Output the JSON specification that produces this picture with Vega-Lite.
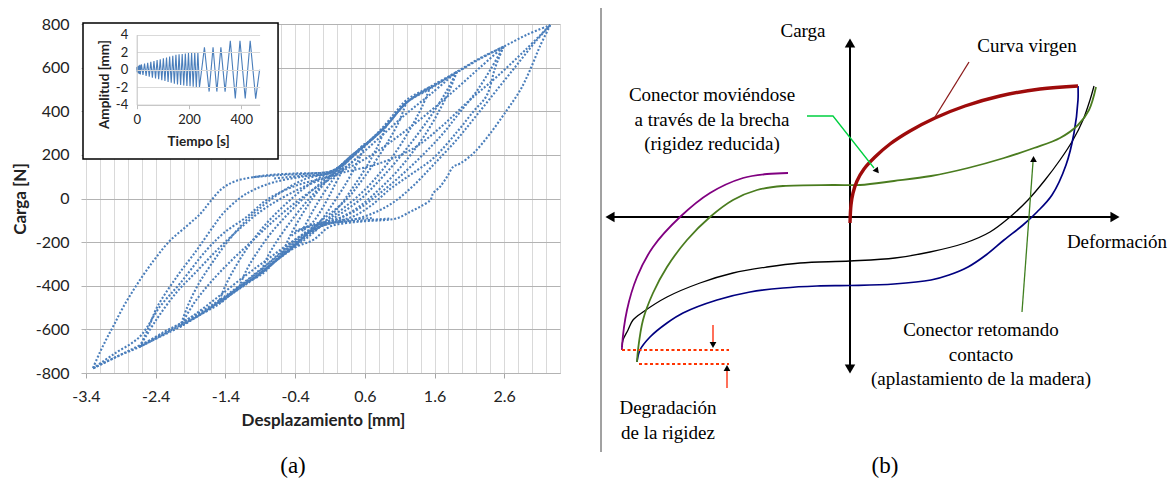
{
"$schema":"https://vega.github.io/schema/vega-lite/v6.json",
"width":1173,"height":397,
"autosize":"none",
"padding":{"left":0,"top":0,"right":0,"bottom":87},
"background":"white",
"config":{"view":{"stroke":null},"font":"Lato"},
"datasets":{
"hy":[
{"p":1,"d":-3.3,"c":-777},{"p":1,"d":-3.2,"c":-705},{"p":1,"d":-3.1,"c":-640},{"p":1,"d":-3.0,"c":-580},{"p":1,"d":-2.87,"c":-500},{"p":1,"d":-2.67,"c":-395},{"p":1,"d":-2.43,"c":-285},{"p":1,"d":-2.2,"c":-195},{"p":1,"d":-1.95,"c":-125},{"p":1,"d":-1.76,"c":-70},{"p":1,"d":-1.62,"c":-15},{"p":1,"d":-1.45,"c":45},{"p":1,"d":-1.25,"c":80},{"p":1,"d":-0.81,"c":106},{"p":1,"d":-0.38,"c":115},{"p":1,"d":0.1,"c":123},{"p":1,"d":0.25,"c":150},{"p":1,"d":0.39,"c":192},{"p":1,"d":0.63,"c":253},{"p":1,"d":0.87,"c":330},{"p":1,"d":1.05,"c":400},{"p":1,"d":1.2,"c":452},{"p":1,"d":1.54,"c":513},{"p":1,"d":1.92,"c":581},{"p":1,"d":2.25,"c":643},{"p":1,"d":2.59,"c":696},{"p":1,"d":2.92,"c":750},{"p":1,"d":3.26,"c":795},
{"p":2,"d":3.26,"c":795},{"p":2,"d":3.11,"c":696},{"p":2,"d":2.97,"c":589},{"p":2,"d":2.83,"c":497},{"p":2,"d":2.64,"c":406},{"p":2,"d":2.4,"c":299},{"p":2,"d":2.16,"c":208},{"p":2,"d":1.97,"c":161},{"p":2,"d":1.87,"c":146},{"p":2,"d":1.78,"c":100},{"p":2,"d":1.68,"c":54},{"p":2,"d":1.58,"c":24},{"p":2,"d":1.54,"c":-7},{"p":2,"d":1.39,"c":-38},{"p":2,"d":1.25,"c":-61},{"p":2,"d":1.06,"c":-91},{"p":2,"d":0.87,"c":-99},{"p":2,"d":0.53,"c":-106},{"p":2,"d":0.1,"c":-129},{"p":2,"d":-0.14,"c":-190},{"p":2,"d":-0.38,"c":-221},{"p":2,"d":-0.62,"c":-267},{"p":2,"d":-0.86,"c":-343},{"p":2,"d":-1.19,"c":-404},{"p":2,"d":-1.48,"c":-481},{"p":2,"d":-1.81,"c":-542},{"p":2,"d":-2.05,"c":-588},{"p":2,"d":-2.34,"c":-634},{"p":2,"d":-2.63,"c":-680},{"p":2,"d":-2.96,"c":-725},{"p":2,"d":-3.3,"c":-779},
{"p":3,"d":-3.3,"c":-779},{"p":3,"d":-3.0,"c":-713},{"p":3,"d":-2.63,"c":-634},{"p":3,"d":-2.34,"c":-496},{"p":3,"d":-2.05,"c":-389},{"p":3,"d":-1.67,"c":-236},{"p":3,"d":-1.43,"c":-160},{"p":3,"d":-1.09,"c":-83},{"p":3,"d":-0.81,"c":-7},{"p":3,"d":-0.43,"c":54},{"p":3,"d":-0.04,"c":90},{"p":3,"d":0.3,"c":120},{"p":3,"d":0.8,"c":160},{"p":3,"d":1.3,"c":230},{"p":3,"d":1.7,"c":330},{"p":3,"d":2.1,"c":450},{"p":3,"d":2.5,"c":560},{"p":3,"d":2.9,"c":680},{"p":3,"d":3.26,"c":795},
{"p":4,"d":3.26,"c":795},{"p":4,"d":3.05,"c":720},{"p":4,"d":2.8,"c":620},{"p":4,"d":2.5,"c":500},{"p":4,"d":2.2,"c":380},{"p":4,"d":1.92,"c":270},{"p":4,"d":1.6,"c":160},{"p":4,"d":1.3,"c":60},{"p":4,"d":1.0,"c":-20},{"p":4,"d":0.7,"c":-70},{"p":4,"d":0.4,"c":-100},{"p":4,"d":0.1,"c":-115},{"p":4,"d":-0.2,"c":-150},{"p":4,"d":-0.5,"c":-210},{"p":4,"d":-0.8,"c":-280},{"p":4,"d":-1.1,"c":-350},{"p":4,"d":-1.5,"c":-450},{"p":4,"d":-1.9,"c":-545},{"p":4,"d":-2.3,"c":-620},{"p":4,"d":-2.8,"c":-700},{"p":4,"d":-3.3,"c":-779},
{"p":5,"d":-2.63,"c":-680},{"p":5,"d":-2.5,"c":-590},{"p":5,"d":-2.38,"c":-498},{"p":5,"d":-2.1,"c":-360},{"p":5,"d":-1.81,"c":-236},{"p":5,"d":-1.6,"c":-140},{"p":5,"d":-1.43,"c":-67},{"p":5,"d":-1.2,"c":0},{"p":5,"d":-1.0,"c":39},{"p":5,"d":-0.7,"c":75},{"p":5,"d":-0.3,"c":100},{"p":5,"d":0.1,"c":118},{"p":5,"d":0.3,"c":155},{"p":5,"d":0.5,"c":215},{"p":5,"d":0.87,"c":320},{"p":5,"d":1.2,"c":440},{"p":5,"d":1.54,"c":508},{"p":5,"d":1.92,"c":578},{"p":5,"d":2.25,"c":640},{"p":5,"d":2.59,"c":696},
{"p":6,"d":2.59,"c":696},{"p":6,"d":2.47,"c":600},{"p":6,"d":2.35,"c":473},{"p":6,"d":2.15,"c":396},{"p":6,"d":1.92,"c":304},{"p":6,"d":1.58,"c":184},{"p":6,"d":1.25,"c":108},{"p":6,"d":0.95,"c":40},{"p":6,"d":0.7,"c":-30},{"p":6,"d":0.45,"c":-80},{"p":6,"d":0.2,"c":-105},{"p":6,"d":-0.05,"c":-130},{"p":6,"d":-0.3,"c":-175},{"p":6,"d":-0.6,"c":-250},{"p":6,"d":-0.9,"c":-330},{"p":6,"d":-1.2,"c":-405},{"p":6,"d":-1.5,"c":-475},{"p":6,"d":-1.8,"c":-540},{"p":6,"d":-2.1,"c":-590},{"p":6,"d":-2.35,"c":-634},{"p":6,"d":-2.63,"c":-680},
{"p":7,"d":-2.63,"c":-680},{"p":7,"d":-2.4,"c":-560},{"p":7,"d":-2.1,"c":-430},{"p":7,"d":-1.8,"c":-330},{"p":7,"d":-1.5,"c":-230},{"p":7,"d":-1.2,"c":-140},{"p":7,"d":-0.9,"c":-60},{"p":7,"d":-0.6,"c":0},{"p":7,"d":-0.3,"c":50},{"p":7,"d":0.0,"c":90},{"p":7,"d":0.3,"c":130},{"p":7,"d":0.7,"c":200},{"p":7,"d":1.1,"c":290},{"p":7,"d":1.5,"c":390},{"p":7,"d":1.9,"c":500},{"p":7,"d":2.25,"c":600},{"p":7,"d":2.59,"c":696},
{"p":8,"d":2.59,"c":696},{"p":8,"d":2.4,"c":590},{"p":8,"d":2.2,"c":490},{"p":8,"d":1.95,"c":390},{"p":8,"d":1.7,"c":290},{"p":8,"d":1.4,"c":190},{"p":8,"d":1.1,"c":100},{"p":8,"d":0.8,"c":20},{"p":8,"d":0.5,"c":-50},{"p":8,"d":0.2,"c":-95},{"p":8,"d":-0.1,"c":-125},{"p":8,"d":-0.4,"c":-190},{"p":8,"d":-0.8,"c":-300},{"p":8,"d":-1.2,"c":-400},{"p":8,"d":-1.6,"c":-490},{"p":8,"d":-2.0,"c":-565},{"p":8,"d":-2.3,"c":-615},{"p":8,"d":-2.63,"c":-680},
{"p":9,"d":-2.05,"c":-588},{"p":9,"d":-1.95,"c":-500},{"p":9,"d":-1.8,"c":-400},{"p":9,"d":-1.6,"c":-300},{"p":9,"d":-1.35,"c":-190},{"p":9,"d":-1.1,"c":-100},{"p":9,"d":-0.85,"c":-30},{"p":9,"d":-0.55,"c":40},{"p":9,"d":-0.25,"c":90},{"p":9,"d":0.05,"c":115},{"p":9,"d":0.3,"c":160},{"p":9,"d":0.6,"c":240},{"p":9,"d":0.9,"c":330},{"p":9,"d":1.2,"c":440},{"p":9,"d":1.55,"c":505},{"p":9,"d":1.92,"c":581},
{"p":10,"d":1.92,"c":581},{"p":10,"d":1.82,"c":500},{"p":10,"d":1.68,"c":410},{"p":10,"d":1.5,"c":310},{"p":10,"d":1.28,"c":210},{"p":10,"d":1.05,"c":120},{"p":10,"d":0.8,"c":40},{"p":10,"d":0.55,"c":-30},{"p":10,"d":0.3,"c":-80},{"p":10,"d":0.05,"c":-115},{"p":10,"d":-0.2,"c":-160},{"p":10,"d":-0.5,"c":-230},{"p":10,"d":-0.85,"c":-330},{"p":10,"d":-1.2,"c":-410},{"p":10,"d":-1.5,"c":-475},{"p":10,"d":-1.8,"c":-535},{"p":10,"d":-2.05,"c":-588},
{"p":11,"d":-2.05,"c":-588},{"p":11,"d":-1.85,"c":-480},{"p":11,"d":-1.6,"c":-380},{"p":11,"d":-1.3,"c":-280},{"p":11,"d":-1.0,"c":-190},{"p":11,"d":-0.7,"c":-100},{"p":11,"d":-0.4,"c":-20},{"p":11,"d":-0.1,"c":50},{"p":11,"d":0.2,"c":110},{"p":11,"d":0.5,"c":190},{"p":11,"d":0.85,"c":290},{"p":11,"d":1.2,"c":390},{"p":11,"d":1.55,"c":480},{"p":11,"d":1.92,"c":581},
{"p":12,"d":1.92,"c":581},{"p":12,"d":1.75,"c":480},{"p":12,"d":1.55,"c":380},{"p":12,"d":1.3,"c":270},{"p":12,"d":1.05,"c":170},{"p":12,"d":0.8,"c":80},{"p":12,"d":0.55,"c":0},{"p":12,"d":0.3,"c":-60},{"p":12,"d":0.05,"c":-110},{"p":12,"d":-0.2,"c":-165},{"p":12,"d":-0.5,"c":-240},{"p":12,"d":-0.8,"c":-315},{"p":12,"d":-1.15,"c":-400},{"p":12,"d":-1.55,"c":-490},{"p":12,"d":-2.05,"c":-588},
{"p":13,"d":-1.5,"c":-481},{"p":13,"d":-1.4,"c":-400},{"p":13,"d":-1.25,"c":-310},{"p":13,"d":-1.05,"c":-210},{"p":13,"d":-0.8,"c":-110},{"p":13,"d":-0.55,"c":-30},{"p":13,"d":-0.3,"c":40},{"p":13,"d":-0.05,"c":95},{"p":13,"d":0.15,"c":125},{"p":13,"d":0.39,"c":192},{"p":13,"d":0.63,"c":253},{"p":13,"d":0.87,"c":320},{"p":13,"d":1.2,"c":440},{"p":13,"d":1.54,"c":512},
{"p":14,"d":1.54,"c":512},{"p":14,"d":1.42,"c":420},{"p":14,"d":1.27,"c":330},{"p":14,"d":1.08,"c":230},{"p":14,"d":0.85,"c":130},{"p":14,"d":0.6,"c":40},{"p":14,"d":0.35,"c":-30},{"p":14,"d":0.1,"c":-90},{"p":14,"d":-0.15,"c":-140},{"p":14,"d":-0.4,"c":-210},{"p":14,"d":-0.7,"c":-290},{"p":14,"d":-1.0,"c":-370},{"p":14,"d":-1.25,"c":-425},{"p":14,"d":-1.5,"c":-481},
{"p":15,"d":-1.2,"c":-405},{"p":15,"d":-1.1,"c":-330},{"p":15,"d":-0.95,"c":-250},{"p":15,"d":-0.75,"c":-160},{"p":15,"d":-0.5,"c":-70},{"p":15,"d":-0.25,"c":10},{"p":15,"d":0.0,"c":80},{"p":15,"d":0.2,"c":130},{"p":15,"d":0.4,"c":190},{"p":15,"d":0.63,"c":253},{"p":15,"d":0.9,"c":335},{"p":15,"d":1.2,"c":445},
{"p":16,"d":1.2,"c":445},{"p":16,"d":1.1,"c":360},{"p":16,"d":0.95,"c":270},{"p":16,"d":0.75,"c":170},{"p":16,"d":0.55,"c":80},{"p":16,"d":0.35,"c":0},{"p":16,"d":0.1,"c":-70},{"p":16,"d":-0.1,"c":-120},{"p":16,"d":-0.35,"c":-200},{"p":16,"d":-0.6,"c":-267},{"p":16,"d":-0.9,"c":-345},{"p":16,"d":-1.2,"c":-405},
{"p":17,"d":-0.9,"c":-345},{"p":17,"d":-0.8,"c":-270},{"p":17,"d":-0.65,"c":-190},{"p":17,"d":-0.45,"c":-100},{"p":17,"d":-0.25,"c":-20},{"p":17,"d":-0.05,"c":50},{"p":17,"d":0.15,"c":110},{"p":17,"d":0.4,"c":190},{"p":17,"d":0.65,"c":260},{"p":17,"d":0.9,"c":330},
{"p":18,"d":0.9,"c":330},{"p":18,"d":0.8,"c":250},{"p":18,"d":0.65,"c":160},{"p":18,"d":0.45,"c":60},{"p":18,"d":0.25,"c":-30},{"p":18,"d":0.05,"c":-100},{"p":18,"d":-0.15,"c":-160},{"p":18,"d":-0.4,"c":-222},{"p":18,"d":-0.65,"c":-280},{"p":18,"d":-0.9,"c":-345},
{"p":19,"d":-0.6,"c":-267},{"p":19,"d":-0.5,"c":-190},{"p":19,"d":-0.35,"c":-100},{"p":19,"d":-0.15,"c":0},{"p":19,"d":0.05,"c":80},{"p":19,"d":0.25,"c":150},{"p":19,"d":0.45,"c":205},{"p":19,"d":0.6,"c":250},{"p":19,"d":0.5,"c":170},{"p":19,"d":0.35,"c":80},{"p":19,"d":0.15,"c":-20},{"p":19,"d":-0.05,"c":-110},{"p":19,"d":-0.25,"c":-170},{"p":19,"d":-0.45,"c":-225},{"p":19,"d":-0.6,"c":-267},
{"p":20,"d":-1.0,"c":98},{"p":20,"d":-0.6,"c":108},{"p":20,"d":-0.2,"c":114},{"p":20,"d":0.15,"c":128},{"p":20,"d":0.35,"c":170},
{"p":21,"d":-0.7,"c":92},{"p":21,"d":-0.3,"c":104},{"p":21,"d":0.05,"c":112},{"p":21,"d":0.3,"c":140},{"p":21,"d":0.5,"c":190},
{"p":22,"d":0.95,"c":-92},{"p":22,"d":0.6,"c":-100},{"p":22,"d":0.25,"c":-108},{"p":22,"d":-0.05,"c":-118},{"p":22,"d":-0.3,"c":-140},{"p":22,"d":-0.45,"c":-170},
{"p":23,"d":0.7,"c":-90},{"p":23,"d":0.4,"c":-96},{"p":23,"d":0.1,"c":-104},{"p":23,"d":-0.15,"c":-120},{"p":23,"d":-0.4,"c":-150},
{"p":24,"d":-0.3,"c":-150},{"p":24,"d":-0.15,"c":-60},{"p":24,"d":0.0,"c":20},{"p":24,"d":0.15,"c":90},{"p":24,"d":0.3,"c":150},{"p":24,"d":0.15,"c":50},{"p":24,"d":0.0,"c":-40},{"p":24,"d":-0.15,"c":-110},{"p":24,"d":-0.3,"c":-150}
],
"ins":[
{"t":0,"a":0},{"t":0.6,"a":0.3},{"t":1.8,"a":-0.3},{"t":3,"a":0.35},{"t":4.2,"a":-0.35},{"t":5.4,"a":0.4},{"t":6.6,"a":-0.4},{"t":7.8,"a":0.45},{"t":9,"a":-0.45},{"t":10.2,"a":0.5},{"t":11.4,"a":-0.5},{"t":12.6,"a":0.55},{"t":13.8,"a":-0.55},
{"t":18,"a":0.6},{"t":24,"a":-0.6},{"t":30,"a":0.7},{"t":36,"a":-0.7},{"t":42,"a":0.8},{"t":48,"a":-0.8},{"t":54,"a":0.9},{"t":60,"a":-0.9},{"t":66,"a":1.0},{"t":72,"a":-1.0},{"t":78,"a":1.1},{"t":84,"a":-1.1},{"t":90,"a":1.2},{"t":96,"a":-1.2},{"t":102,"a":1.3},{"t":108,"a":-1.3},{"t":114,"a":1.4},{"t":120,"a":-1.4},{"t":126,"a":1.5},{"t":132,"a":-1.5},{"t":138,"a":1.6},{"t":144,"a":-1.6},{"t":150,"a":1.7},{"t":156,"a":-1.7},{"t":162,"a":1.75},{"t":168,"a":-1.75},{"t":174,"a":1.8},{"t":180,"a":-1.8},{"t":186,"a":1.85},{"t":192,"a":-1.85},{"t":198,"a":1.9},{"t":204,"a":-1.9},{"t":210,"a":1.95},{"t":216,"a":-1.95},{"t":222,"a":2.0},{"t":228,"a":-2.0},{"t":234,"a":2.0},{"t":240,"a":-2.0},
{"t":259,"a":2.55},{"t":277,"a":-2.5},{"t":292,"a":2.55},{"t":306.5,"a":-2.5},{"t":322,"a":2.55},{"t":338,"a":-2.5},{"t":358,"a":3.3},{"t":377,"a":-3.3},{"t":395,"a":3.3},{"t":415,"a":-3.3},{"t":434,"a":3.3},{"t":455,"a":-3.3},{"t":470,"a":0}
],
"box":[{"x1":-3.443,"x2":-0.645,"y1":804.6,"y2":181}],
"pb":[
{"s":"ejeV","u":0,"v":173},{"s":"ejeV","u":0,"v":-151},
{"s":"ejeH","u":-239,"v":0},{"s":"ejeH","u":264,"v":0},
{"s":"sep","u":-249,"v":209},{"s":"sep","u":-249,"v":-235},
{"s":"virgen","u":0,"v":-6},{"s":"virgen","u":1,"v":12},{"s":"virgen","u":3,"v":24},{"s":"virgen","u":7,"v":36},{"s":"virgen","u":14,"v":48},{"s":"virgen","u":25,"v":60},{"s":"virgen","u":40,"v":73},{"s":"virgen","u":60,"v":86},{"s":"virgen","u":85,"v":99},{"s":"virgen","u":115,"v":111},{"s":"virgen","u":150,"v":121},{"s":"virgen","u":190,"v":128},{"s":"virgen","u":228,"v":131},
{"s":"azul","u":228,"v":131},{"s":"azul","u":228,"v":117},{"s":"azul","u":224,"v":84},{"s":"azul","u":216,"v":52},{"s":"azul","u":202,"v":22},{"s":"azul","u":187,"v":5},{"s":"azul","u":173,"v":-8},{"s":"azul","u":154,"v":-23},{"s":"azul","u":136,"v":-38},{"s":"azul","u":118,"v":-50},{"s":"azul","u":99,"v":-58},{"s":"azul","u":81,"v":-63},{"s":"azul","u":44,"v":-67},{"s":"azul","u":0,"v":-68.5},{"s":"azul","u":-33,"v":-69},{"s":"azul","u":-67,"v":-71},{"s":"azul","u":-100,"v":-75},{"s":"azul","u":-133,"v":-83},{"s":"azul","u":-167,"v":-96},{"s":"azul","u":-183,"v":-106},{"s":"azul","u":-200,"v":-120},{"s":"azul","u":-210,"v":-133},{"s":"azul","u":-213,"v":-145},
{"s":"negra","u":-228,"v":-130},{"s":"negra","u":-227,"v":-123},{"s":"negra","u":-222,"v":-113},{"s":"negra","u":-217,"v":-103},{"s":"negra","u":-207,"v":-95},{"s":"negra","u":-183,"v":-80},{"s":"negra","u":-150,"v":-66},{"s":"negra","u":-117,"v":-56},{"s":"negra","u":-83,"v":-50},{"s":"negra","u":-50,"v":-46},{"s":"negra","u":0,"v":-44},{"s":"negra","u":45,"v":-41},{"s":"negra","u":80,"v":-35},{"s":"negra","u":115,"v":-26},{"s":"negra","u":140,"v":-15},{"s":"negra","u":160,"v":0},{"s":"negra","u":178,"v":17},{"s":"negra","u":195,"v":37},{"s":"negra","u":210,"v":57},{"s":"negra","u":223,"v":77},{"s":"negra","u":233,"v":97},{"s":"negra","u":240,"v":117},{"s":"negra","u":244,"v":131},
{"s":"verde","u":-213,"v":-145},{"s":"verde","u":-212,"v":-133},{"s":"verde","u":-207,"v":-103},{"s":"verde","u":-197,"v":-76},{"s":"verde","u":-183,"v":-50},{"s":"verde","u":-163,"v":-23},{"s":"verde","u":-140,"v":0},{"s":"verde","u":-117,"v":17},{"s":"verde","u":-93,"v":27},{"s":"verde","u":-67,"v":31},{"s":"verde","u":-17,"v":32},{"s":"verde","u":10,"v":32},{"s":"verde","u":44,"v":36},{"s":"verde","u":81,"v":41},{"s":"verde","u":118,"v":49},{"s":"verde","u":154,"v":59},{"s":"verde","u":184,"v":69},{"s":"verde","u":210,"v":79},{"s":"verde","u":228,"v":92},{"s":"verde","u":239,"v":107},{"s":"verde","u":246,"v":130},
{"s":"morada","u":-228,"v":-133},{"s":"morada","u":-228,"v":-130},{"s":"morada","u":-223,"v":-93},{"s":"morada","u":-213,"v":-60},{"s":"morada","u":-197,"v":-30},{"s":"morada","u":-170,"v":0},{"s":"morada","u":-140,"v":24},{"s":"morada","u":-107,"v":39},{"s":"morada","u":-83,"v":43},{"s":"morada","u":-62,"v":44},
{"s":"guiaVerde","u":-43,"v":101},{"s":"guiaVerde","u":-17,"v":101},{"s":"guiaVerde","u":24,"v":49},
{"s":"guiaOscura","u":172,"v":-95},{"s":"guiaOscura","u":183,"v":55},
{"s":"guiaRoja","u":119,"v":155},{"s":"guiaRoja","u":85,"v":100},
{"s":"flecha1","u":-137,"v":-108},{"s":"flecha1","u":-137,"v":-126},
{"s":"flecha2","u":-123,"v":-171},{"s":"flecha2","u":-123,"v":-153},
{"s":"deg1","u":-228,"v":-133},{"s":"deg1","u":-121,"v":-133},
{"s":"deg2","u":-211,"v":-147},{"s":"deg2","u":-121,"v":-147}
],
"hd":[
{"k":"ejeArriba","u":0,"v":174},{"k":"ejeAbajo","u":0,"v":-152},{"k":"ejeIzq","u":-240,"v":0},{"k":"ejeDer","u":265,"v":0},
{"k":"flechaArriba","u":-123,"v":-151},{"k":"guiaArriba","u":183.5,"v":58},{"k":"flechaAbajo","u":-137,"v":-128},{"k":"guiaDiag","u":27,"v":46}
],
"tx":[
{"k":"b","t":"Carga","u":-47,"v":186},
{"k":"b","t":"Curva virgen","u":177,"v":171},
{"k":"b","t":"Conector moviéndose","u":-138,"v":122},
{"k":"b","t":"a través de la brecha","u":-138,"v":97},
{"k":"b","t":"(rigidez reducida)","u":-138,"v":73},
{"k":"b","t":"Deformación","u":267,"v":-25},
{"k":"b","t":"Conector retomando","u":131,"v":-113},
{"k":"b","t":"contacto","u":131,"v":-138},
{"k":"b","t":"(aplastamiento de la madera)","u":131,"v":-162},
{"k":"b","t":"Degradación","u":-182,"v":-191},
{"k":"b","t":"de la rigidez","u":-182,"v":-216},
{"k":"c","t":"(b)","u":35,"v":-249},
{"k":"c","t":"(a)","u":-557,"v":-249}
]
},
"layer":[
{
"data":{"name":"hy"},
"mark":{"type":"line","color":"#4a7ebb","strokeWidth":2.1,"strokeDash":[2,1.8],"interpolate":"catmull-rom"},
"encoding":{
"x":{"field":"d","type":"quantitative","scale":{"domain":[-3.4,3.4],"range":[86,560],"nice":false,"zero":false},
"axis":{"orient":"bottom","offset":-24,"zindex":0,
"values":[-3.4,-3.2,-3,-2.8,-2.6,-2.4,-2.2,-2,-1.8,-1.6,-1.4,-1.2,-1,-0.8,-0.6,-0.4,-0.2,0,0.2,0.4,0.6,0.8,1,1.2,1.4,1.6,1.8,2,2.2,2.4,2.6,2.8,3,3.2,3.4],
"labelExpr":"indexof([-3.4,-2.4,-1.4,-0.4,0.6,1.6,2.6], datum.value) >= 0 ? '' + datum.value : ''",
"labelOverlap":false,"labelFlush":false,"labelFont":"Lato","labelFontSize":16,"labelColor":"#222222","labelPadding":10,
"ticks":true,"tickSize":5,"tickColor":"#a6a6a6",
"tickOpacity":{"condition":{"test":"indexof([-3.4,-2.4,-1.4,-0.4,0.6,1.6,2.6], datum.value) >= 0","value":1},"value":0},
"grid":true,"gridColor":"#d9d9d9","gridWidth":1,
"domain":true,"domainColor":"#b3b3b3",
"title":"Desplazamiento [mm]","titleFont":"Lato","titleFontSize":17,"titleFontWeight":"bold","titleColor":"#222222","titlePadding":8}},
"y":{"field":"c","type":"quantitative","scale":{"domain":[-800,800],"range":[373,24],"nice":false,"zero":false},
"axis":{"orient":"left","offset":-86,"zindex":0,"values":[-800,-600,-400,-200,0,200,400,600,800],
"labelExpr":"'' + datum.value","labelFont":"Lato","labelFontSize":16,"labelColor":"#222222","labelPadding":12,
"tickSize":5,"tickColor":"#b3b3b3","grid":true,"gridColor":"#b3b3b3","domain":false,
"title":"Carga [N]","titleFont":"Lato","titleFontSize":17,"titleFontWeight":"bold","titleColor":"#222222","titlePadding":6}},
"detail":{"field":"p","type":"nominal"},
"order":{"value":null}
}
},
{"data":{"name":"box"},
"mark":{"type":"rect","fill":"white","stroke":"black","strokeWidth":1.5},
"encoding":{
"x":{"field":"x1","type":"quantitative","scale":{"domain":[-3.4,3.4],"range":[86,560],"nice":false,"zero":false},"axis":null},
"x2":{"field":"x2"},
"y":{"field":"y1","type":"quantitative","scale":{"domain":[-800,800],"range":[373,24],"nice":false,"zero":false},"axis":null},
"y2":{"field":"y2"}}},
{"data":{"name":"ins"},
"mark":{"type":"line","color":"#4a7ebb","strokeWidth":1.1},
"encoding":{
"x":{"field":"t","type":"quantitative","scale":{"domain":[0,470],"range":[136.7,259.6],"nice":false,"zero":false},
"axis":{"orient":"bottom","offset":-292.3,"zindex":2,"values":[0,200,400],"labelFont":"Lato","labelFontSize":13,"labelColor":"#222222","labelPadding":5,"labelFlush":false,
"tickSize":4,"tickColor":"#bfbfbf","grid":false,"domain":true,"domainColor":"#bfbfbf",
"title":"Tiempo [s]","titleFont":"Lato","titleFontSize":13.5,"titleFontWeight":"bold","titleColor":"#222222","titlePadding":8}},
"y":{"field":"a","type":"quantitative","scale":{"domain":[-4,4],"range":[104.7,34.7],"nice":false,"zero":false},
"axis":{"orient":"left","offset":-136.7,"zindex":2,"values":[-4,-2,0,2,4],"labelExpr":"'' + datum.value","labelFont":"Lato","labelFontSize":13,"labelColor":"#222222","labelPadding":9,
"ticks":false,"grid":true,"gridColor":"#d9d9d9","domain":true,"domainColor":"#bfbfbf",
"title":"Amplitud [mm]","titleFont":"Lato","titleFontSize":13.5,"titleFontWeight":"bold","titleColor":"#222222","titleX":-25.5,"titleY":84}},
"order":{"field":"t","type":"quantitative"}}},
{
"encoding":{
"x":{"field":"u","type":"quantitative","scale":{"domain":[-250,323],"range":[600,1173],"nice":false,"zero":false},"axis":null},
"y":{"field":"v","type":"quantitative","scale":{"domain":[-267,217],"range":[484,0],"nice":false,"zero":false},"axis":null}
},
"layer":[
{"data":{"name":"pb"},"transform":[{"filter":"datum.s == 'sep'"}],"mark":{"type":"line","color":"#444444","strokeWidth":1},"encoding":{"detail":{"field":"s","type":"nominal"},"order":{"value":null}}},
{"data":{"name":"pb"},"transform":[{"filter":"datum.s == 'ejeV' || datum.s == 'ejeH'"}],"mark":{"type":"line","color":"black","strokeWidth":2},"encoding":{"detail":{"field":"s","type":"nominal"},"order":{"value":null}}},
{"data":{"name":"pb"},"transform":[{"filter":"datum.s == 'negra'"}],"mark":{"type":"line","color":"black","strokeWidth":1.3,"interpolate":"catmull-rom"},"encoding":{"order":{"value":null}}},
{"data":{"name":"pb"},"transform":[{"filter":"datum.s == 'azul'"}],"mark":{"type":"line","color":"#000080","strokeWidth":1.7,"interpolate":"catmull-rom"},"encoding":{"order":{"value":null}}},
{"data":{"name":"pb"},"transform":[{"filter":"datum.s == 'verde'"}],"mark":{"type":"line","color":"#4a7c1f","strokeWidth":1.8,"interpolate":"catmull-rom"},"encoding":{"order":{"value":null}}},
{"data":{"name":"pb"},"transform":[{"filter":"datum.s == 'morada'"}],"mark":{"type":"line","color":"#800080","strokeWidth":1.8,"interpolate":"catmull-rom"},"encoding":{"order":{"value":null}}},
{"data":{"name":"pb"},"transform":[{"filter":"datum.s == 'virgen'"}],"mark":{"type":"line","color":"#9e0b0b","strokeWidth":3.4,"interpolate":"catmull-rom"},"encoding":{"order":{"value":null}}},
{"data":{"name":"pb"},"transform":[{"filter":"datum.s == 'guiaVerde'"}],"mark":{"type":"line","color":"#00d040","strokeWidth":1.3},"encoding":{"order":{"value":null}}},
{"data":{"name":"pb"},"transform":[{"filter":"datum.s == 'guiaOscura'"}],"mark":{"type":"line","color":"#3f7f1f","strokeWidth":1.3},"encoding":{"order":{"value":null}}},
{"data":{"name":"pb"},"transform":[{"filter":"datum.s == 'guiaRoja'"}],"mark":{"type":"line","color":"#8b1a1a","strokeWidth":1.3},"encoding":{"order":{"value":null}}},
{"data":{"name":"pb"},"transform":[{"filter":"datum.s == 'flecha1' || datum.s == 'flecha2'"}],"mark":{"type":"line","color":"#ff2200","strokeWidth":1.3},"encoding":{"detail":{"field":"s","type":"nominal"},"order":{"value":null}}},
{"data":{"name":"pb"},"transform":[{"filter":"datum.s == 'deg1' || datum.s == 'deg2'"}],"mark":{"type":"line","color":"#ff3300","strokeWidth":2,"strokeDash":[3,2.5]},"encoding":{"detail":{"field":"s","type":"nominal"},"order":{"value":null}}},
{"data":{"name":"hd"},"transform":[{"filter":"datum.k == 'ejeArriba'"}],"mark":{"type":"point","shape":"triangle-up","size":110,"filled":true,"color":"black","opacity":1}},
{"data":{"name":"hd"},"transform":[{"filter":"datum.k == 'ejeAbajo'"}],"mark":{"type":"point","shape":"triangle-down","size":110,"filled":true,"color":"black","opacity":1}},
{"data":{"name":"hd"},"transform":[{"filter":"datum.k == 'ejeIzq'"}],"mark":{"type":"point","shape":"triangle-left","size":110,"filled":true,"color":"black","opacity":1}},
{"data":{"name":"hd"},"transform":[{"filter":"datum.k == 'ejeDer'"}],"mark":{"type":"point","shape":"triangle-right","size":110,"filled":true,"color":"black","opacity":1}},
{"data":{"name":"hd"},"transform":[{"filter":"datum.k == 'flechaArriba' || datum.k == 'guiaArriba'"}],"mark":{"type":"point","shape":"triangle-up","size":45,"filled":true,"color":"black","opacity":1}},
{"data":{"name":"hd"},"transform":[{"filter":"datum.k == 'flechaAbajo'"}],"mark":{"type":"point","shape":"triangle-down","size":45,"filled":true,"color":"black","opacity":1}},
{"data":{"name":"hd"},"transform":[{"filter":"datum.k == 'guiaDiag'"}],"mark":{"type":"point","shape":"triangle-up","angle":141,"size":45,"filled":true,"color":"black","opacity":1}},
{"data":{"name":"tx"},"transform":[{"filter":"datum.k == 'b'"}],"mark":{"type":"text","font":"Liberation Serif","fontSize":19,"color":"black","align":"center","baseline":"middle"},"encoding":{"text":{"field":"t","type":"nominal"}}},
{"data":{"name":"tx"},"transform":[{"filter":"datum.k == 'c'"}],"mark":{"type":"text","font":"Liberation Serif","fontSize":23,"color":"black","align":"center","baseline":"middle"},"encoding":{"text":{"field":"t","type":"nominal"}}}
]
}
],
"resolve":{"scale":{"x":"independent","y":"independent"}}
}
